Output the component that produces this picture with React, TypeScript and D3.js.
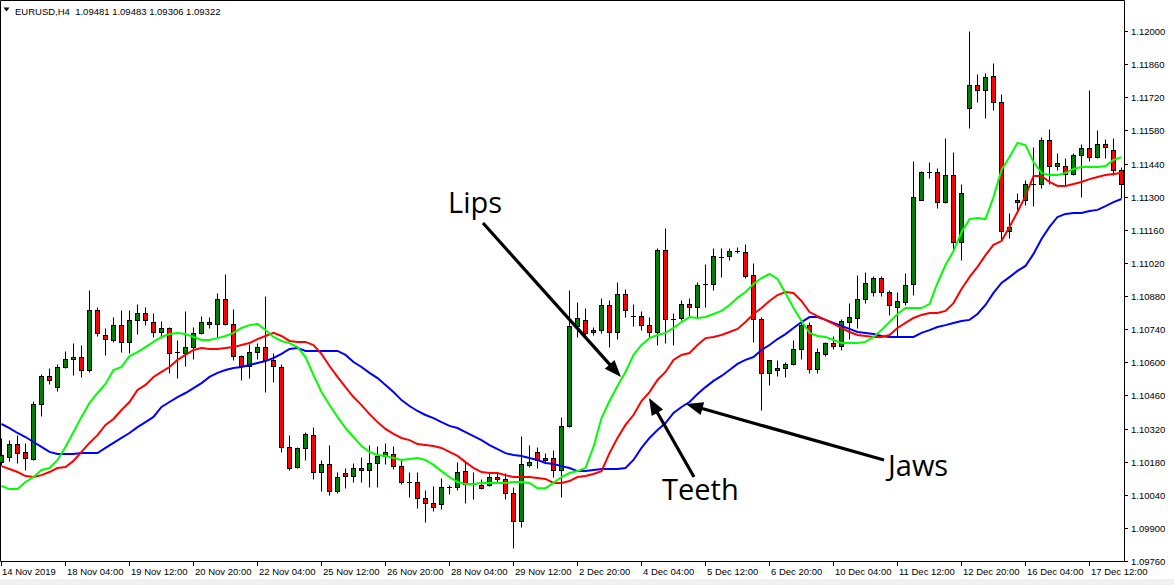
import React from "react";
import * as d3 from "d3";

// ---- DATA (EURUSD H4, prices) ----
// each candle: [open, high, low, close]
const candles: [number, number, number, number][] = [
  [1.10178,1.10280,1.10166,1.10208],[1.10200,1.10271,1.10183,1.10254],[1.10254,1.10292,1.10174,1.10216],[1.10221,1.10259,1.10145,1.10195],
  [1.10191,1.10436,1.10187,1.10424],[1.10424,1.10550,1.10373,1.10542],[1.10542,1.10576,1.10508,1.10525],[1.10495,1.10593,1.10478,1.10580],
  [1.10580,1.10648,1.10576,1.10614],[1.10614,1.10681,1.10546,1.10622],[1.10622,1.10673,1.10538,1.10567],[1.10567,1.10905,1.10559,1.10821],
  [1.10821,1.10834,1.10711,1.10724],[1.10715,1.10745,1.10631,1.10698],[1.10694,1.10791,1.10686,1.10757],[1.10757,1.10821,1.10643,1.10686],
  [1.10686,1.10821,1.10639,1.10779],[1.10779,1.10846,1.10719,1.10808],[1.10808,1.10834,1.10757,1.10779],[1.10770,1.10808,1.10707,1.10728],
  [1.10728,1.10774,1.10702,1.10745],[1.10745,1.10749,1.10555,1.10639],[1.10643,1.10694,1.10533,1.10643],[1.10639,1.10817,1.10584,1.10664],
  [1.10664,1.10749,1.10614,1.10724],[1.10724,1.10795,1.10719,1.10770],[1.10770,1.10791,1.10745,1.10762],[1.10762,1.10893,1.10707,1.10867],
  [1.10867,1.10973,1.10757,1.10762],[1.10762,1.10825,1.10610,1.10626],[1.10626,1.10631,1.10525,1.10584],[1.10584,1.10677,1.10533,1.10643],
  [1.10643,1.10681,1.10614,1.10664],[1.10664,1.10880,1.10474,1.10610],[1.10610,1.10639,1.10517,1.10584],[1.10580,1.10593,1.10221,1.10242],
  [1.10242,1.10292,1.10145,1.10153],[1.10157,1.10242,1.10153,1.10238],[1.10238,1.10305,1.10187,1.10297],[1.10292,1.10326,1.10107,1.10136],
  [1.10136,1.10187,1.10056,1.10170],[1.10170,1.10250,1.10039,1.10056],[1.10056,1.10136,1.10047,1.10115],[1.10132,1.10153,1.10068,1.10119],
  [1.10119,1.10174,1.10094,1.10153],[1.10153,1.10200,1.10094,1.10145],[1.10145,1.10250,1.10073,1.10174],[1.10174,1.10246,1.10073,1.10204],
  [1.10204,1.10259,1.10170,1.10221],[1.10212,1.10246,1.10149,1.10161],[1.10161,1.10187,1.10085,1.10094],[1.10094,1.10136,1.10030,1.10094],
  [1.10094,1.10136,1.09984,1.10026],[1.10026,1.10060,1.09925,1.10005],[1.10005,1.10077,1.09971,1.09988],[1.10001,1.10111,1.09980,1.10073],
  [1.10073,1.10081,1.10043,1.10073],[1.10073,1.10178,1.10060,1.10136],[1.10140,1.10178,1.10005,1.10085],[1.10085,1.10136,1.10022,1.10085],
  [1.10081,1.10107,1.10064,1.10068],[1.10081,1.10132,1.10077,1.10115],[1.10115,1.10132,1.10090,1.10107],[1.10107,1.10132,1.10022,1.10047],
  [1.10047,1.10073,1.09815,1.09929],[1.09929,1.10288,1.09904,1.10170],[1.10166,1.10250,1.10157,1.10178],[1.10221,1.10242,1.10153,1.10187],
  [1.10187,1.10216,1.10174,1.10195],[1.10195,1.10229,1.10115,1.10145],[1.10145,1.10369,1.10030,1.10331],[1.10331,1.10905,1.10326,1.10753],
  [1.10753,1.10855,1.10707,1.10787],[1.10779,1.10829,1.10715,1.10724],[1.10728,1.10749,1.10715,1.10736],[1.10736,1.10872,1.10724,1.10842],
  [1.10842,1.10863,1.10664,1.10728],[1.10728,1.10939,1.10698,1.10888],[1.10888,1.10910,1.10791,1.10821],[1.10795,1.10846,1.10753,1.10795],
  [1.10795,1.10817,1.10736,1.10757],[1.10757,1.10791,1.10702,1.10728],[1.10728,1.11083,1.10673,1.11074],[1.11074,1.11167,1.10681,1.10783],
  [1.10783,1.10808,1.10673,1.10783],[1.10787,1.10863,1.10779,1.10846],[1.10846,1.10872,1.10791,1.10834],[1.10834,1.10939,1.10791,1.10926],
  [1.10931,1.11015,1.10834,1.10931],[1.10931,1.11083,1.10905,1.11049],[1.11045,1.11083,1.10960,1.11045],[1.11049,1.11083,1.11032,1.11070],
  [1.11070,1.11087,1.11062,1.11070],[1.11066,1.11100,1.10956,1.10965],[1.10969,1.11019,1.10686,1.10783],[1.10783,1.10791,1.10398,1.10555],
  [1.10555,1.10610,1.10504,1.10610],[1.10567,1.10610,1.10542,1.10576],[1.10576,1.10601,1.10538,1.10593],[1.10593,1.10694,1.10588,1.10656],
  [1.10656,1.10770,1.10614,1.10757],[1.10757,1.10770,1.10555,1.10572],[1.10572,1.10660,1.10555,1.10643],[1.10635,1.10686,1.10626,1.10681],
  [1.10681,1.10711,1.10656,1.10669],[1.10669,1.10783,1.10652,1.10774],[1.10770,1.10850,1.10698,1.10791],[1.10787,1.10969,1.10745,1.10867],
  [1.10867,1.10981,1.10850,1.10935],[1.10897,1.10965,1.10880,1.10956],[1.10956,1.10965,1.10880,1.10897],[1.10897,1.10905,1.10800,1.10842],
  [1.10834,1.10897,1.10707,1.10859],[1.10855,1.10977,1.10842,1.10926],[1.10931,1.11451,1.10884,1.11298],[1.11286,1.11408,1.11286,1.11404],
  [1.11404,1.11446,1.11379,1.11404],[1.11404,1.11421,1.11252,1.11277],[1.11277,1.11548,1.11273,1.11391],[1.11391,1.11489,1.11079,1.11108],
  [1.11108,1.11353,1.11032,1.11315],[1.11675,1.12000,1.11590,1.11772],[1.11772,1.11818,1.11700,1.11751],[1.11751,1.11822,1.11632,1.11806],
  [1.11810,1.11865,1.11666,1.11700],[1.11700,1.11734,1.11112,1.11155],[1.11155,1.11231,1.11125,1.11172],[1.11277,1.11315,1.11231,1.11286],
  [1.11286,1.11370,1.11265,1.11353],[1.11353,1.11510,1.11260,1.11353],[1.11353,1.11552,1.11336,1.11539],[1.11539,1.11586,1.11353,1.11429],
  [1.11429,1.11484,1.11413,1.11442],[1.11429,1.11463,1.11345,1.11396],[1.11396,1.11484,1.11391,1.11476],[1.11476,1.11522,1.11298,1.11506],
  [1.11506,1.11751,1.11451,1.11467],[1.11467,1.11582,1.11463,1.11522],[1.11522,1.11544,1.11463,1.11510],[1.11497,1.11548,1.11391,1.11413],
  [1.11413,1.11425,1.11294,1.11353],
];

// Alligator jaw (blue)
const jaw: number[] = [
  1.10339,1.10322,1.10301,1.10284,1.10263,1.10242,1.10221,1.10212,1.10212,1.10212,
  1.10216,1.10216,1.10216,1.10238,1.10259,1.10280,1.10301,1.10326,1.10347,1.10369,
  1.10411,1.10432,1.10453,1.10470,1.10491,1.10512,1.10538,1.10555,1.10567,1.10576,
  1.10580,1.10588,1.10597,1.10605,1.10618,1.10635,1.10656,1.10660,1.10648,1.10648,
  1.10648,1.10648,1.10648,1.10631,1.10601,1.10580,1.10555,1.10533,1.10504,1.10474,
  1.10440,1.10415,1.10394,1.10377,1.10364,1.10347,1.10331,1.10322,1.10305,1.10288,
  1.10271,1.10250,1.10233,1.10216,1.10208,1.10204,1.10195,1.10187,1.10174,1.10170,
  1.10161,1.10153,1.10140,1.10140,1.10145,1.10149,1.10149,1.10149,1.10153,1.10187,
  1.10238,1.10280,1.10314,1.10343,1.10386,1.10411,1.10432,1.10466,1.10495,1.10521,
  1.10542,1.10567,1.10593,1.10610,1.10622,1.10652,1.10673,1.10698,1.10719,1.10745,
  1.10770,1.10791,1.10791,1.10779,1.10766,1.10753,1.10741,1.10728,1.10724,1.10719,
  1.10711,1.10707,1.10707,1.10707,1.10707,1.10724,1.10736,1.10749,1.10757,1.10766,
  1.10774,1.10779,1.10804,1.10842,1.10893,1.10935,1.10960,1.10986,1.11007,1.11058,
  1.11121,1.11172,1.11214,1.11227,1.11231,1.11231,1.11239,1.11244,1.11260,1.11277,
  1.11290,
];

// Alligator teeth (red)
const teeth: number[] = [
  1.10161,1.10149,1.10136,1.10119,1.10115,1.10123,1.10136,1.10153,1.10157,1.10183,
  1.10221,1.10259,1.10292,1.10335,1.10360,1.10398,1.10432,1.10483,1.10504,1.10538,
  1.10559,1.10580,1.10610,1.10631,1.10652,1.10660,1.10656,1.10656,1.10660,1.10664,
  1.10673,1.10681,1.10698,1.10711,1.10724,1.10711,1.10690,1.10686,1.10686,1.10673,
  1.10635,1.10584,1.10538,1.10495,1.10453,1.10419,1.10381,1.10347,1.10318,1.10297,
  1.10280,1.10271,1.10254,1.10250,1.10246,1.10238,1.10221,1.10204,1.10178,1.10153,
  1.10136,1.10132,1.10132,1.10123,1.10115,1.10115,1.10115,1.10111,1.10107,1.10090,
  1.10090,1.10098,1.10115,1.10119,1.10128,1.10140,1.10216,1.10280,1.10335,1.10377,
  1.10436,1.10474,1.10525,1.10559,1.10610,1.10631,1.10639,1.10673,1.10702,1.10707,
  1.10715,1.10728,1.10741,1.10770,1.10804,1.10829,1.10859,1.10884,1.10897,1.10893,
  1.10859,1.10812,1.10795,1.10779,1.10762,1.10745,1.10728,1.10715,1.10711,1.10707,
  1.10707,1.10715,1.10745,1.10766,1.10787,1.10800,1.10808,1.10808,1.10817,1.10850,
  1.10910,1.10960,1.11003,1.11053,1.11096,1.11112,1.11172,1.11235,1.11303,1.11387,
  1.11387,1.11362,1.11345,1.11345,1.11353,1.11362,1.11374,1.11383,1.11391,1.11396,
  1.11400,
];

// Alligator lips (green)
const lips: number[] = [
  1.10077,1.10064,1.10064,1.10094,1.10115,1.10145,1.10153,1.10187,1.10242,1.10305,
  1.10369,1.10428,1.10470,1.10508,1.10567,1.10580,1.10626,1.10643,1.10664,1.10686,
  1.10707,1.10719,1.10724,1.10719,1.10707,1.10694,1.10694,1.10702,1.10711,1.10724,
  1.10745,1.10757,1.10762,1.10736,1.10707,1.10690,1.10681,1.10664,1.10622,1.10546,
  1.10474,1.10419,1.10369,1.10322,1.10284,1.10246,1.10221,1.10208,1.10204,1.10195,
  1.10187,1.10191,1.10195,1.10187,1.10166,1.10140,1.10115,1.10094,1.10085,1.10085,
  1.10090,1.10090,1.10090,1.10090,1.10094,1.10094,1.10090,1.10068,1.10068,1.10090,
  1.10115,1.10132,1.10140,1.10153,1.10242,1.10364,1.10436,1.10500,1.10559,1.10631,
  1.10673,1.10702,1.10715,1.10724,1.10745,1.10770,1.10791,1.10787,1.10791,1.10804,
  1.10817,1.10842,1.10872,1.10897,1.10931,1.10956,1.10973,1.10952,1.10893,1.10829,
  1.10774,1.10724,1.10711,1.10707,1.10694,1.10681,1.10681,1.10681,1.10686,1.10707,
  1.10736,1.10770,1.10804,1.10829,1.10829,1.10829,1.10846,1.10935,1.11011,1.11070,
  1.11150,1.11205,1.11210,1.11205,1.11298,1.11413,1.11467,1.11527,1.11518,1.11446,
  1.11400,1.11391,1.11391,1.11400,1.11417,1.11425,1.11425,1.11425,1.11429,1.11455,
  1.11467,
];

const priceTicks: number[] = [
  1.12, 1.1186, 1.1172, 1.1158, 1.1144, 1.113, 1.1116, 1.1102, 1.1088,
  1.1074, 1.106, 1.1046, 1.1032, 1.1018, 1.1004, 1.099, 1.0976,
];

const timeTickBars: number[] = [0, 8, 16, 24, 32, 40, 48, 56, 64, 72, 80, 88, 96, 104, 112, 120, 128, 136];
const timeTickLabels: string[] = [
  "14 Nov 2019", "18 Nov 04:00", "19 Nov 12:00", "20 Nov 20:00", "22 Nov 04:00", "25 Nov 12:00",
  "26 Nov 20:00", "28 Nov 04:00", "29 Nov 12:00", "2 Dec 20:00", "4 Dec 04:00", "5 Dec 12:00",
  "6 Dec 20:00", "10 Dec 04:00", "11 Dec 12:00", "12 Dec 20:00", "16 Dec 04:00", "17 Dec 12:00",
];

const headerText = "EURUSD,H4  1.09481 1.09483 1.09306 1.09322";
const annotationLabels = ["Lips", "Teeth", "Jaws"];

// ---- LAYOUT ----
const W = 1174;
const H = 585;
const PLOT_RIGHT = 1124;
const PLOT_BOTTOM = 561;
const AXIS_FONT = "'Liberation Sans', Arial, sans-serif";
const BIG_FONT = "'Open Sans', 'Noto Sans', sans-serif";

function Arrow({ x1, y1, x2, y2 }: { x1: number; y1: number; x2: number; y2: number }) {
  const dx = x2 - x1, dy = y2 - y1;
  const len = Math.hypot(dx, dy);
  const ux = dx / len, uy = dy / len;
  const hl = 17, hw = 6.5;
  const bx = x2 - ux * hl, by = y2 - uy * hl;
  const px = -uy, py = ux;
  const pts = `${x2},${y2} ${bx + px * hw},${by + py * hw} ${bx - px * hw},${by - py * hw}`;
  return (
    <g>
      <line x1={x1} y1={y1} x2={bx + ux * 2} y2={by + uy * 2} stroke="#000" strokeWidth={3.2} />
      <polygon points={pts} fill="#000" />
    </g>
  );
}

export default function App() {
  const n = candles.length;
  const x = d3.scaleLinear().domain([0, n - 1]).range([1.5, 1121.5]);
  const y = d3.scaleLinear().domain([1.0976, 1.12]).range([PLOT_BOTTOM, 31]);
  const yr = (v: number) => Math.round(y(v)) + 0.5;

  const line = d3
    .line<number>()
    .x((_, i) => x(i))
    .y((d) => y(d));

  const annotations = [
    { text: annotationLabels[0], tx: 448, ty: 213, a: [483, 223, 621, 377] },
    { text: annotationLabels[1], tx: 662, ty: 500, a: [694, 477, 649, 398] },
    { text: annotationLabels[2], tx: 888, ty: 476, a: [884, 460, 686, 404] },
  ];

  return (
    <div style={{ position: "fixed", left: 0, top: 0, width: W, height: H, background: "#fff" }}>
      <svg width={W} height={H} style={{ display: "block" }}>
        <rect x={0} y={0} width={W} height={H} fill="#fff" />
        <rect x={0} y={579} width={W} height={H - 579} fill="#f0f0f0" />

        {/* frame */}
        <path
          d={`M0.5,0.5 H${PLOT_RIGHT + 0.5} V${PLOT_BOTTOM + 0.5} H0.5 Z`}
          fill="none"
          stroke="#000"
          strokeWidth={1}
        />

        {/* header */}
        <polygon points="3.5,7.5 9.5,7.5 6.5,11.5" fill="#000" />
        <text x={15} y={15} fontFamily={AXIS_FONT} fontSize={9.5} fill="#000" style={{ whiteSpace: "pre" }}>
          {headerText}
        </text>

        {/* candles */}
        <g>
          {candles.map(([o, h, l, c], i) => {
            const cx = x(i);
            const yo = yr(o), yc = yr(c);
            const top = Math.min(yo, yc);
            const bh = Math.abs(yo - yc);
            return (
              <g key={i}>
                <line x1={cx} x2={cx} y1={yr(h)} y2={yr(l)} stroke="#000" strokeWidth={1} />
                {bh < 1 ? (
                  <line x1={cx - 2.5} x2={cx + 2.5} y1={yo} y2={yo} stroke="#000" strokeWidth={1} />
                ) : (
                  <rect
                    x={cx - 2}
                    y={top}
                    width={4}
                    height={bh}
                    fill={c > o ? "#008000" : "#ff0000"}
                    stroke="#000"
                    strokeWidth={1}
                  />
                )}
              </g>
            );
          })}
        </g>

        {/* alligator */}
        <path d={line(jaw) || ""} fill="none" stroke="#0000ff" strokeWidth={2} />
        <path d={line(teeth) || ""} fill="none" stroke="#ff0000" strokeWidth={2} />
        <path d={line(lips) || ""} fill="none" stroke="#00ff00" strokeWidth={2} />

        {/* price axis */}
        <g>
          {priceTicks.map((p) => {
            const ty = yr(p);
            return (
              <g key={p}>
                <line x1={PLOT_RIGHT} x2={PLOT_RIGHT + 4} y1={ty} y2={ty} stroke="#000" />
                <text x={1131} y={ty + 3.5} fontFamily={AXIS_FONT} fontSize={9.5} fill="#000">
                  {p.toFixed(5)}
                </text>
              </g>
            );
          })}
        </g>

        {/* time axis */}
        <g>
          {timeTickBars.map((b, i) => {
            const tx = x(b);
            return (
              <g key={b}>
                <line x1={tx} x2={tx} y1={PLOT_BOTTOM} y2={PLOT_BOTTOM + 5} stroke="#000" />
                <text x={i === 0 ? 2 : tx + 1.5} y={575} fontFamily={AXIS_FONT} fontSize={9.5} fill="#000">
                  {timeTickLabels[i]}
                </text>
              </g>
            );
          })}
        </g>

        {/* annotations */}
        {annotations.map((a) => (
          <g key={a.text}>
            <text x={a.tx} y={a.ty} fontFamily={BIG_FONT} fontSize={29} fill="#000">
              {a.text}
            </text>
            <Arrow x1={a.a[0]} y1={a.a[1]} x2={a.a[2]} y2={a.a[3]} />
          </g>
        ))}
      </svg>
    </div>
  );
}
